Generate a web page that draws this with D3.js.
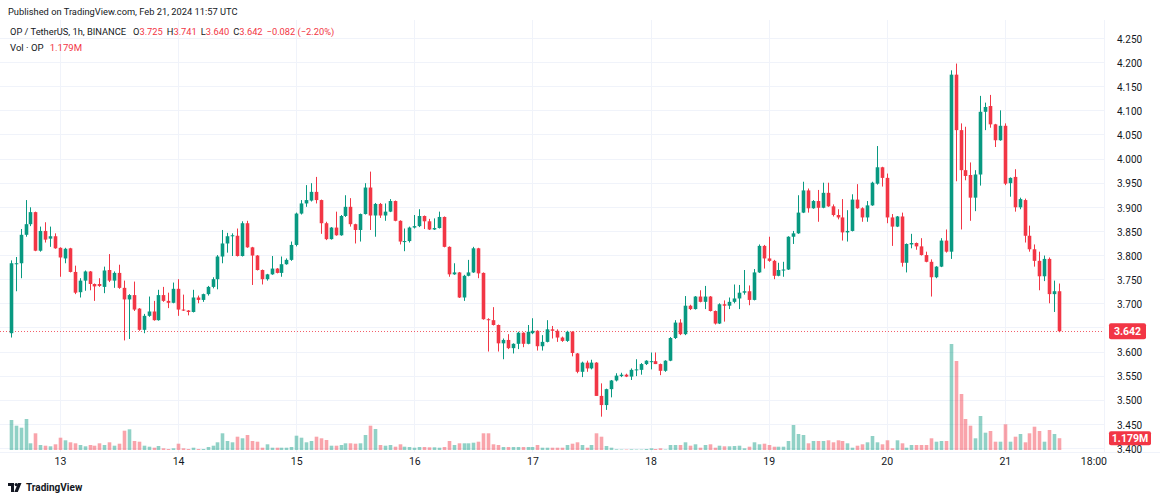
<!DOCTYPE html>
<html><head><meta charset="utf-8">
<script src="https://cdn.jsdelivr.net/npm/d3@7"></script>
<style>
html,body{margin:0;padding:0;background:#fff;}
text{font-family:Roboto,"Noto Sans",sans-serif;}
</style></head>
<body><svg id="c" width="1160" height="500"></svg>
<script>
const opens = [3.638,3.783,3.783,3.842,3.864,3.889,3.809,3.850,3.834,3.839,3.815,3.793,3.814,3.765,3.723,3.747,3.766,3.740,3.740,3.734,3.769,3.747,3.763,3.732,3.708,3.717,3.689,3.645,3.674,3.683,3.665,3.717,3.705,3.701,3.730,3.687,3.685,3.682,3.712,3.707,3.719,3.734,3.750,3.797,3.824,3.839,3.840,3.798,3.866,3.816,3.799,3.769,3.750,3.760,3.772,3.763,3.781,3.790,3.821,3.886,3.907,3.913,3.931,3.914,3.866,3.833,3.857,3.841,3.881,3.900,3.864,3.852,3.885,3.940,3.882,3.906,3.882,3.890,3.912,3.871,3.828,3.829,3.857,3.860,3.881,3.870,3.853,3.856,3.879,3.817,3.760,3.764,3.712,3.757,3.764,3.814,3.763,3.667,3.665,3.655,3.617,3.624,3.607,3.616,3.639,3.616,3.638,3.643,3.611,3.620,3.646,3.643,3.629,3.622,3.641,3.596,3.558,3.577,3.565,3.577,3.508,3.489,3.522,3.540,3.549,3.552,3.548,3.561,3.562,3.574,3.580,3.580,3.574,3.560,3.581,3.628,3.660,3.636,3.695,3.688,3.714,3.703,3.714,3.684,3.658,3.698,3.695,3.703,3.710,3.722,3.725,3.707,3.764,3.819,3.793,3.788,3.757,3.769,3.770,3.838,3.845,3.888,3.934,3.897,3.912,3.898,3.929,3.901,3.883,3.878,3.847,3.850,3.915,3.897,3.878,3.903,3.948,3.982,3.960,3.878,3.859,3.880,3.784,3.822,3.825,3.818,3.800,3.786,3.754,3.776,3.830,3.807,4.174,4.059,3.976,3.966,3.919,3.967,4.097,4.109,4.071,4.038,4.068,3.949,3.962,3.899,3.914,3.840,3.812,3.788,3.756,3.792,3.719,3.725];
const highs = [3.789,3.796,3.854,3.914,3.899,3.890,3.859,3.868,3.859,3.845,3.816,3.815,3.815,3.778,3.752,3.768,3.767,3.741,3.752,3.776,3.802,3.766,3.780,3.747,3.719,3.745,3.690,3.678,3.714,3.705,3.728,3.734,3.722,3.743,3.750,3.718,3.686,3.728,3.716,3.720,3.736,3.754,3.800,3.852,3.846,3.845,3.855,3.870,3.871,3.817,3.800,3.770,3.761,3.798,3.773,3.797,3.793,3.828,3.888,3.914,3.945,3.949,3.962,3.915,3.869,3.858,3.890,3.883,3.924,3.918,3.865,3.886,3.949,3.973,3.908,3.908,3.907,3.916,3.913,3.872,3.855,3.859,3.883,3.895,3.882,3.875,3.876,3.890,3.880,3.818,3.783,3.765,3.759,3.790,3.817,3.815,3.764,3.669,3.692,3.656,3.627,3.636,3.617,3.641,3.640,3.655,3.669,3.644,3.634,3.665,3.653,3.646,3.631,3.643,3.642,3.597,3.579,3.581,3.583,3.578,3.534,3.523,3.541,3.555,3.556,3.554,3.565,3.584,3.576,3.582,3.598,3.598,3.575,3.582,3.630,3.665,3.667,3.715,3.697,3.715,3.727,3.736,3.715,3.685,3.700,3.706,3.712,3.739,3.738,3.769,3.737,3.771,3.822,3.821,3.838,3.790,3.784,3.786,3.839,3.850,3.924,3.952,3.938,3.914,3.935,3.950,3.950,3.905,3.895,3.916,3.893,3.926,3.947,3.899,3.912,3.952,4.026,3.983,3.969,3.885,3.881,3.888,3.824,3.844,3.826,3.835,3.807,3.791,3.777,3.835,3.853,4.183,4.197,4.073,4.066,3.992,3.976,4.130,4.116,4.132,4.072,4.100,4.073,3.961,3.978,3.919,3.917,3.861,3.822,3.807,3.799,3.795,3.747,3.741];
const lows = [3.629,3.725,3.752,3.838,3.860,3.808,3.807,3.826,3.817,3.813,3.755,3.783,3.764,3.719,3.712,3.726,3.727,3.705,3.734,3.721,3.744,3.732,3.730,3.623,3.626,3.684,3.643,3.638,3.672,3.664,3.664,3.703,3.690,3.700,3.674,3.684,3.675,3.681,3.700,3.703,3.716,3.731,3.729,3.783,3.805,3.798,3.797,3.797,3.815,3.738,3.768,3.739,3.747,3.759,3.762,3.755,3.780,3.788,3.818,3.884,3.900,3.911,3.907,3.844,3.831,3.832,3.840,3.840,3.879,3.859,3.824,3.828,3.884,3.852,3.838,3.877,3.871,3.889,3.870,3.822,3.808,3.826,3.855,3.858,3.854,3.852,3.852,3.855,3.816,3.755,3.759,3.711,3.705,3.756,3.763,3.752,3.666,3.600,3.654,3.600,3.584,3.605,3.596,3.605,3.609,3.615,3.636,3.602,3.602,3.619,3.627,3.620,3.620,3.620,3.590,3.555,3.547,3.558,3.563,3.508,3.465,3.479,3.505,3.538,3.547,3.547,3.541,3.549,3.552,3.572,3.563,3.574,3.551,3.558,3.580,3.626,3.634,3.634,3.686,3.687,3.702,3.688,3.683,3.656,3.657,3.662,3.688,3.700,3.688,3.718,3.696,3.706,3.763,3.772,3.786,3.750,3.756,3.755,3.769,3.823,3.844,3.887,3.888,3.896,3.869,3.897,3.900,3.880,3.874,3.830,3.828,3.849,3.896,3.869,3.869,3.902,3.946,3.942,3.866,3.819,3.858,3.776,3.764,3.814,3.811,3.799,3.785,3.714,3.752,3.775,3.805,3.792,3.953,3.853,3.955,3.871,3.891,3.944,4.059,4.064,4.024,4.037,3.945,3.921,3.890,3.895,3.826,3.807,3.776,3.727,3.746,3.700,3.682,3.640];
const closes = [3.783,3.783,3.842,3.864,3.889,3.809,3.850,3.832,3.839,3.814,3.795,3.813,3.765,3.722,3.747,3.766,3.740,3.735,3.736,3.768,3.747,3.763,3.732,3.708,3.717,3.687,3.645,3.674,3.683,3.665,3.717,3.705,3.701,3.730,3.687,3.685,3.682,3.712,3.707,3.719,3.734,3.750,3.797,3.824,3.839,3.841,3.798,3.866,3.816,3.799,3.769,3.750,3.760,3.772,3.763,3.781,3.790,3.821,3.886,3.907,3.914,3.931,3.914,3.866,3.833,3.857,3.841,3.881,3.900,3.864,3.852,3.885,3.940,3.882,3.906,3.882,3.890,3.912,3.871,3.828,3.829,3.857,3.860,3.881,3.870,3.853,3.856,3.879,3.817,3.760,3.764,3.712,3.757,3.764,3.814,3.762,3.667,3.665,3.655,3.617,3.624,3.607,3.616,3.639,3.616,3.641,3.643,3.611,3.620,3.646,3.643,3.629,3.622,3.641,3.597,3.558,3.577,3.565,3.577,3.508,3.489,3.522,3.540,3.550,3.552,3.548,3.562,3.563,3.574,3.581,3.580,3.574,3.560,3.581,3.628,3.660,3.636,3.695,3.688,3.714,3.703,3.714,3.684,3.658,3.698,3.695,3.703,3.710,3.722,3.725,3.707,3.764,3.819,3.793,3.788,3.757,3.769,3.770,3.838,3.845,3.888,3.934,3.897,3.912,3.898,3.929,3.901,3.883,3.878,3.847,3.850,3.915,3.897,3.878,3.903,3.950,3.982,3.960,3.878,3.859,3.880,3.784,3.823,3.825,3.818,3.800,3.786,3.754,3.776,3.830,3.807,4.174,4.059,3.976,3.964,3.919,3.967,4.097,4.107,4.071,4.038,4.068,3.948,3.960,3.899,3.916,3.840,3.812,3.788,3.756,3.792,3.719,3.725,3.642];
const volumes = [3.0,2.43,2.23,3.1,0.67,1.67,0.5,0.43,0.37,0.57,1.23,0.97,0.77,0.67,0.5,0.37,0.5,0.43,0.67,0.5,0.77,0.43,0.63,1.93,2.07,0.9,0.83,0.43,0.33,0.23,0.4,0.17,0.1,0.17,0.63,0.17,0.1,0.23,0.1,0.1,0.3,0.43,0.77,1.67,0.9,0.77,1.33,1.17,1.5,0.9,0.83,0.23,0.57,0.23,0.23,0.23,0.23,0.3,1.43,1.23,0.77,0.9,1.33,1.17,1.0,0.43,0.43,0.5,0.67,0.67,0.63,0.67,1.5,2.43,2.1,0.5,0.43,0.5,0.33,0.57,0.33,0.3,0.23,0.3,0.3,0.27,0.27,0.23,0.3,0.9,0.5,0.67,0.67,0.67,0.73,0.83,1.67,1.67,0.57,0.5,0.3,0.3,0.3,0.3,0.3,0.3,0.3,0.5,0.23,0.23,0.23,0.23,0.23,0.5,0.63,0.77,0.5,0.23,0.5,1.67,1.33,0.4,0.23,0.07,0.05,0.05,0.07,0.05,0.05,0.1,0.17,0.1,0.17,0.05,0.5,0.5,0.5,0.77,0.43,0.57,0.23,0.5,0.57,0.23,0.43,0.37,0.37,0.4,0.43,0.17,0.33,0.77,0.57,0.63,0.5,0.33,0.33,0.33,0.9,2.5,1.6,1.5,0.67,0.9,0.9,0.9,0.97,0.77,0.97,0.9,0.67,0.23,0.43,0.57,0.77,1.4,0.77,0.57,0.97,0.17,0.97,0.67,0.23,0.5,0.5,0.5,0.5,1.17,0.83,0.9,0.9,10.6,8.9,5.6,3.1,2.43,1.17,3.4,1.73,1.9,0.83,0.83,2.57,0.83,1.33,1.6,0.77,1.67,2.33,1.9,0.83,2.0,1.6,1.179];
const priceTicks = ["4.250","4.200","4.150","4.100","4.050","4.000","3.950","3.900","3.850","3.800","3.750","3.700","3.650","3.600","3.550","3.500","3.450","3.400"];
const timeTickLabels = ["13","14","15","16","17","18","19","20","21","18:00"];
const timeTickDates = ["2024-02-13T00:00Z","2024-02-14T00:00Z","2024-02-15T00:00Z","2024-02-16T00:00Z","2024-02-17T00:00Z","2024-02-18T00:00Z","2024-02-19T00:00Z","2024-02-20T00:00Z","2024-02-21T00:00Z","2024-02-21T18:00Z"];
const firstBar = "2024-02-12T14:00Z";
const lastPrice = "3.642", lastVolume = "1.179M";
const legendOHLC = [["O","3.725"],["H","3.741"],["L","3.640"],["C","3.642"]];
const legendChange = "−0.082 (−2.20%)";

const UP = "#089981", DOWN = "#f23645", TXT = "#131722";
const FONT = "Roboto, 'Noto Sans', sans-serif";
const svg = d3.select("#c");
svg.append("rect").attr("width",1160).attr("height",500).attr("fill","#fff");

const t0 = new Date(firstBar).getTime();
const data = opens.map((o,i)=>({t:new Date(t0+i*3600e3),o,h:highs[i],l:lows[i],c:closes[i],v:volumes[i]}));
const x = d3.scaleUtc().domain([data[0].t, data[data.length-1].t]).range([10.8, 1059]);
const y = d3.scaleLinear().domain([3.40, 4.25]).range([448, 38]);
const yv = d3.scaleLinear().domain([0, 11.5]).range([450, 335]);

const plotR = 1104, plotB = 452, plotT = 20;
const tickDates = timeTickDates.map(d=>new Date(d));

// grid
const g = svg.append("g");
g.selectAll("line.h").data(priceTicks).join("line")
 .attr("x1",0).attr("x2",plotR).attr("y1",d=>Math.round(y(+d))+0.5).attr("y2",d=>Math.round(y(+d))+0.5)
 .attr("stroke","#f0f3fa");
g.selectAll("line.v").data(tickDates.slice(0,9)).join("line")
 .attr("x1",d=>Math.round(x(d))+0.5).attr("x2",d=>Math.round(x(d))+0.5).attr("y1",plotT).attr("y2",plotB)
 .attr("stroke","#f0f3fa");

// volume
const bw = 3.6;
svg.append("g").selectAll("rect").data(data).join("rect")
 .attr("x",d=>Math.round(x(d.t))+0.5-bw/2).attr("width",bw)
 .attr("y",d=>yv(d.v)).attr("height",d=>yv(0)-yv(d.v))
 .attr("fill",d=>d.c>=d.o?UP:DOWN).attr("opacity",0.45);

// last price line
svg.append("line").attr("x1",0).attr("x2",plotR).attr("y1",Math.round(y(+lastPrice))+0.5).attr("y2",Math.round(y(+lastPrice))+0.5)
 .attr("stroke",DOWN).attr("stroke-dasharray","1,2").attr("opacity",0.8);

// candles
const cg = svg.append("g");
cg.selectAll("line").data(data).join("line")
 .attr("x1",d=>Math.round(x(d.t))+0.5).attr("x2",d=>Math.round(x(d.t))+0.5)
 .attr("y1",d=>y(d.h)).attr("y2",d=>y(d.l))
 .attr("stroke",d=>d.c>=d.o?UP:DOWN).attr("stroke-width",1);
cg.selectAll("rect").data(data).join("rect")
 .attr("x",d=>Math.round(x(d.t))+0.5-bw/2).attr("width",bw)
 .attr("y",d=>y(Math.max(d.o,d.c))).attr("height",d=>Math.max(1,Math.abs(y(d.o)-y(d.c))))
 .attr("fill",d=>d.c>=d.o?UP:DOWN);

// borders
svg.append("line").attr("x1",plotR+0.5).attr("x2",plotR+0.5).attr("y1",plotT).attr("y2",plotB).attr("stroke","#f0f3fa");
svg.append("line").attr("x1",0).attr("x2",1160).attr("y1",plotB+0.5).attr("y2",plotB+0.5).attr("stroke","#f0f3fa");

// y axis (labels colliding with the last-price tag are hidden, as in the reference)
const ly = y(+lastPrice);
const shownTicks = priceTicks.filter(t=>Math.abs(y(+t)-ly) > 10);
const yAxis = d3.axisRight(y).tickValues(shownTicks.map(Number)).tickFormat(d=>d3.format(".3f")(d)).tickSize(0).tickPadding(0);
const ya = svg.append("g").attr("transform",`translate(1117,1)`).call(yAxis);
ya.select(".domain").remove();
ya.selectAll("text").attr("font-size",10).attr("fill",TXT).attr("font-family",FONT);

// x axis
const xAxis = d3.axisBottom(x).tickValues(tickDates).tickFormat((d,i)=>timeTickLabels[i]).tickSize(0).tickPadding(0);
const xa = svg.append("g").attr("transform",`translate(0,458)`).call(xAxis);
xa.select(".domain").remove();
xa.selectAll("text").attr("font-size",10.5).attr("fill",TXT).attr("font-family",FONT);

// price tag
svg.append("rect").attr("x",1109).attr("y",ly-8).attr("width",37).attr("height",16).attr("rx",2).attr("fill",DOWN);
svg.append("text").attr("x",1127.5).attr("y",ly+4).attr("text-anchor","middle").attr("font-size",10.5).attr("fill","#fff").attr("font-weight","bold").text(lastPrice);
// volume tag
const lv = yv(volumes[volumes.length-1]);
svg.append("rect").attr("x",1109).attr("y",lv-7).attr("width",42).attr("height",14).attr("rx",2).attr("fill",DOWN);
svg.append("text").attr("x",1130).attr("y",lv+3.5).attr("text-anchor","middle").attr("font-size",10.5).attr("fill","#fff").attr("font-weight","bold").text(lastVolume);

// header
svg.append("text").attr("x",8).attr("y",15).attr("font-size",9.3).attr("fill",TXT).text("Published on TradingView.com, Feb 21, 2024 11:57 UTC");
const l2 = svg.append("text").attr("x",10).attr("y",35).attr("font-size",9.3);
l2.append("tspan").attr("fill",TXT).text("OP / TetherUS, 1h, BINANCE");
legendOHLC.forEach(([k,v],i)=>{
  l2.append("tspan").attr("fill",TXT).attr("dx",i===0?7:4).text(k);
  l2.append("tspan").attr("fill",DOWN).text(v);
});
l2.append("tspan").attr("fill",DOWN).attr("dx",4).text(legendChange);
const l3 = svg.append("text").attr("x",10).attr("y",51).attr("font-size",9.6);
l3.append("tspan").attr("fill",TXT).text("Vol · OP");
l3.append("tspan").attr("fill",DOWN).attr("dx",6).text(lastVolume);

// footer logo
const lg = svg.append("g").attr("transform","translate(8,481)");
lg.append("path").attr("d","M0 2 H6 V11 H3 V5 H0 Z").attr("fill",TXT);
lg.append("circle").attr("cx",8.2).attr("cy",3.6).attr("r",1.6).attr("fill",TXT);
lg.append("path").attr("d","M10 2 H13.5 L9.8 11 H6.3 Z").attr("fill",TXT);
svg.append("text").attr("x",26).attr("y",491).attr("font-size",10).attr("font-weight","bold").attr("fill",TXT).text("TradingView");
</script></body></html>
